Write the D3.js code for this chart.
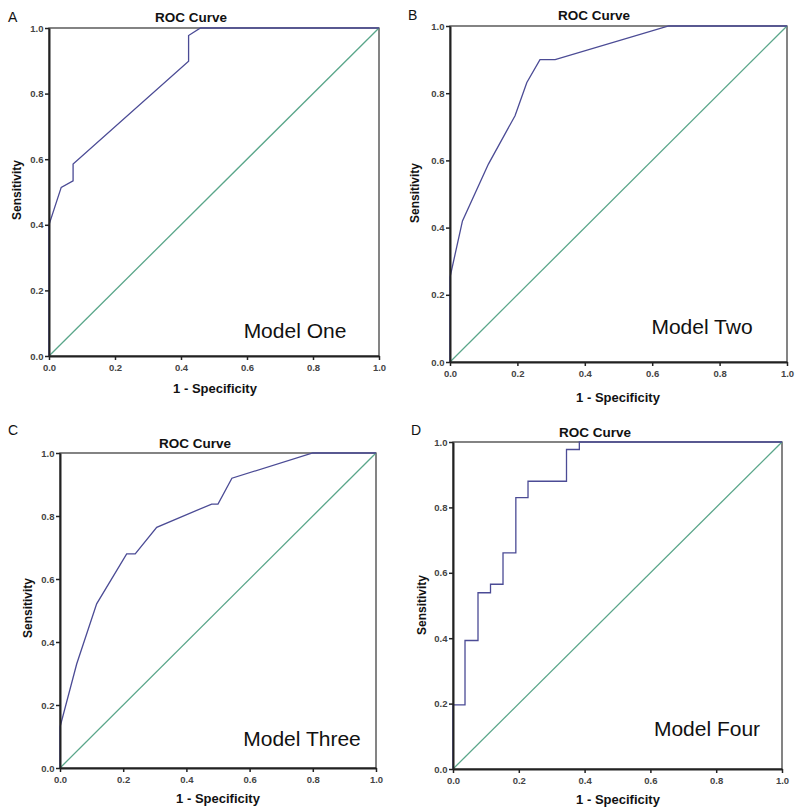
<!DOCTYPE html>
<html><head><meta charset="utf-8">
<script src="https://cdn.jsdelivr.net/npm/d3@7"></script>
<style>
body{margin:0;background:#fff;}
svg{display:block;font-family:"Liberation Sans",Arial,sans-serif;}
</style></head>
<body>
<svg id="chart" width="800" height="811"></svg>
<script>
// ---- data ----
const panelLetters = ["A","B","C","D"];
const modelNames = ["Model One","Model Two","Model Three","Model Four"];
const chartTitle = "ROC Curve";
const xAxisTitle = "1 - Specificity";
const yAxisTitle = "Sensitivity";
const tickValues = [0,0.2,0.4,0.6,0.8,1.0];

const fprOne = [0,0,0.037,0.073,0.073,0.423,0.423,0.459,1];
const tprOne = [0,0.40,0.514,0.534,0.585,0.899,0.977,1,1];

const fprTwo = [0,0,0.037,0.114,0.193,0.228,0.267,0.312,0.649,1];
const tprTwo = [0,0.252,0.42,0.589,0.733,0.832,0.90,0.90,1,1];

const fprThree = [0,0,0.053,0.116,0.211,0.238,0.306,0.48,0.50,0.544,0.80,1];
const tprThree = [0,0.13,0.331,0.521,0.68,0.68,0.764,0.838,0.838,0.92,1,1];

const fprFour = [0,0,0.0365,0.0365,0.076,0.076,0.114,0.114,0.152,0.152,0.191,0.191,0.228,0.228,0.345,0.345,0.384,0.384,1];
const tprFour = [0,0.196,0.196,0.393,0.393,0.539,0.539,0.565,0.565,0.661,0.661,0.830,0.830,0.880,0.880,0.977,0.977,1,1];

const fprSeries = [fprOne,fprTwo,fprThree,fprFour];
const tprSeries = [tprOne,tprTwo,tprThree,tprFour];

// ---- layout (pixel boxes of each plot area) ----
const layouts = [
  {x0:49,x1:379,y0:356,y1:28, letter:[8,22], title:[191,22], xt:[215,393], yt:[17,190], model:[295,338]},
  {x0:450,x1:787,y0:362,y1:26, letter:[408,20], title:[594,20], xt:[618,402], yt:[415,193], model:[702,334]},
  {x0:60,x1:376,y0:768,y1:453, letter:[8,435], title:[195,448], xt:[218,803], yt:[28,608], model:[302,746]},
  {x0:453,x1:782,y0:769,y1:442, letter:[411,435], title:[595,437], xt:[618,804], yt:[422,605], model:[707,736]}
];

const svg = d3.select("#chart");
const curveColor = "#4b4b95";
const diagColor = "#5aa68a";

layouts.forEach((L,i)=>{
  const g = svg.append("g");
  const x = d3.scaleLinear().domain([0,1]).range([L.x0,L.x1]);
  const y = d3.scaleLinear().domain([0,1]).range([L.y0,L.y1]);

  // frame (top/right)
  g.append("rect").attr("x",L.x0).attr("y",L.y1).attr("width",L.x1-L.x0).attr("height",L.y0-L.y1)
    .attr("fill","none").attr("stroke","#333").attr("stroke-width",1.2);

  // diagonal
  g.append("line").attr("x1",x(0)).attr("y1",y(0)).attr("x2",x(1)).attr("y2",y(1))
    .attr("stroke",diagColor).attr("stroke-width",1.3);

  // curve
  const pts = fprSeries[i].map((f,k)=>[f,tprSeries[i][k]]);
  g.append("path").datum(pts)
    .attr("d",d3.line().x(d=>x(d[0])).y(d=>y(d[1])))
    .attr("fill","none").attr("stroke",curveColor).attr("stroke-width",1.3);

  // axes
  const xa = d3.axisBottom(x).tickValues(tickValues).tickFormat(d3.format(".1f")).tickSize(4).tickSizeOuter(0);
  const ya = d3.axisLeft(y).tickValues(tickValues).tickFormat(d3.format(".1f")).tickSize(4).tickSizeOuter(0);
  const gx = g.append("g").attr("transform",`translate(0,${L.y0})`).call(xa);
  const gy = g.append("g").attr("transform",`translate(${L.x0},0)`).call(ya);
  [gx,gy].forEach(a=>{
    a.select(".domain").attr("stroke","#222").attr("stroke-width",2);
    a.selectAll(".tick line").attr("stroke","#222").attr("stroke-width",1.5);
    a.selectAll("text").attr("font-size",9.5).attr("fill","#444").attr("font-weight","bold")
      .attr("font-family","'Liberation Sans',Arial,sans-serif");
  });
  gx.selectAll("text").attr("dy","0.85em");
  gy.selectAll("text").attr("dx","0.15em");

  // texts
  g.append("text").attr("x",L.letter[0]).attr("y",L.letter[1]).text(panelLetters[i])
    .attr("font-size",14).attr("fill","#111");
  g.append("text").attr("x",L.title[0]).attr("y",L.title[1]).attr("text-anchor","middle")
    .text(chartTitle).attr("font-size",13.5).attr("font-weight","bold").attr("fill","#111");
  g.append("text").attr("x",L.xt[0]).attr("y",L.xt[1]).attr("text-anchor","middle")
    .text(xAxisTitle).attr("font-size",13).attr("font-weight","bold").attr("fill","#111");
  g.append("text").attr("transform",`translate(${L.yt[0]},${L.yt[1]}) rotate(-90)`)
    .attr("text-anchor","middle").attr("dy","0.35em")
    .text(yAxisTitle).attr("font-size",12).attr("font-weight","bold").attr("fill","#111");
  g.append("text").attr("x",L.model[0]).attr("y",L.model[1]).attr("text-anchor","middle")
    .text(modelNames[i]).attr("font-size",21).attr("fill","#111");
});
</script>
</body></html>
